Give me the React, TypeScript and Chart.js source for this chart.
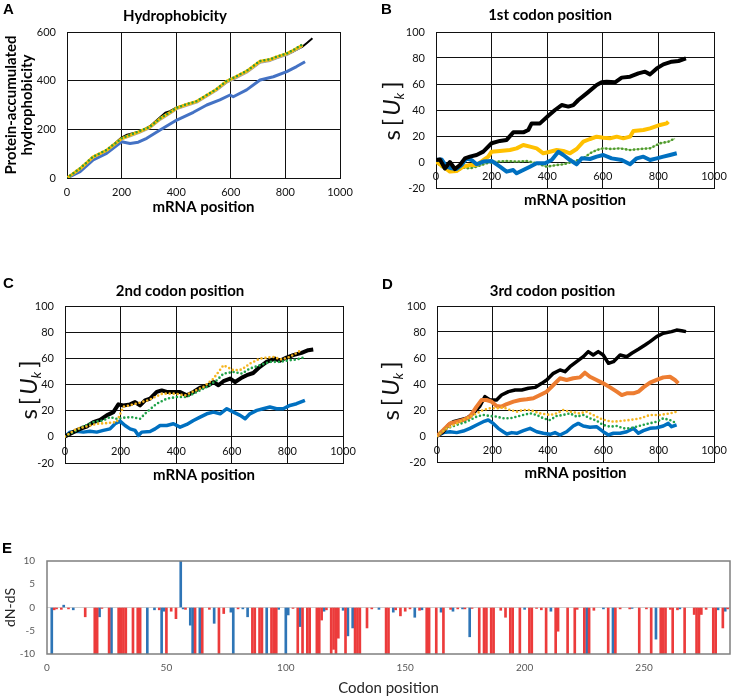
import React, { useEffect, useRef } from 'react';
import { Chart, registerables } from 'chart.js';

Chart.register(...registerables);
Chart.defaults.font.family = 'Lato';

// ---------- shared axis ticks ----------
const mrnaTicksStep = 200;
const mrnaMax = 1000;

// ---------- Panel A: Hydrophobicity ----------
const aGreenX = [0, 48, 96, 145, 200, 231, 267, 304, 341, 377, 402, 438, 475, 512, 548, 585, 609, 658, 707, 744, 768, 805, 829, 863];
const aGreenY = [0, 40, 88, 115, 163, 177, 193, 211, 245, 270, 289, 303, 316, 341, 366, 399, 412, 440, 481, 488, 499, 512, 526, 549];
const aYellowX = [0, 48, 96, 145, 200, 231, 267, 304, 341, 377, 402, 438, 475, 512, 548, 585, 609, 658, 707, 744, 768, 805, 829, 863];
const aYellowY = [0, 39, 87, 114, 162, 176, 192, 210, 244, 269, 288, 302, 315, 340, 365, 398, 411, 439, 480, 487, 498, 511, 525, 546];
const aGrayX = [0, 48, 96, 145, 200, 231, 267, 304, 341, 377, 402, 438, 475, 512, 548, 585, 609, 658, 707, 744, 768, 805, 829, 860];
const aGrayY = [0, 37, 85, 112, 160, 172, 188, 206, 240, 265, 284, 298, 311, 336, 361, 393, 405, 434, 475, 482, 493, 506, 520, 540];
const aBlackX = [0, 48, 96, 145, 200, 220, 245, 270, 304, 341, 360, 377, 402, 438, 475, 512, 548, 585, 609, 658, 707, 744, 768, 805, 829, 863, 880, 899];
const aBlackY = [0, 38, 86, 113, 166, 178, 185, 192, 213, 250, 268, 275, 290, 302, 314, 338, 363, 394, 408, 436, 476, 484, 494, 508, 520, 540, 556, 574];
const aBlueX = [0, 48, 96, 145, 200, 231, 261, 292, 341, 402, 463, 512, 560, 597, 609, 658, 707, 756, 805, 841, 872];
const aBlueY = [0, 26, 74, 101, 149, 142, 147, 163, 197, 238, 270, 300, 321, 341, 334, 362, 403, 416, 437, 458, 478];

// ---------- Panel B: 1st codon position ----------
const bBlackX = [0, 14, 32, 50, 68, 86, 104, 122, 146, 170, 200, 230, 254, 278, 314, 332, 344, 374, 404, 428, 452, 476, 494, 512, 542, 578, 596, 614, 644, 668, 698, 728, 752, 770, 794, 818, 848, 872, 899];
const bBlackY = [1.5, 2, -5, 0, -5.4, -2.3, 2.8, 4.1, 5.4, 8, 14.4, 16.2, 17, 22.8, 22.8, 24.6, 29.7, 29.7, 35.6, 40, 43.8, 42.6, 43.8, 47.7, 52.8, 59.2, 61.3, 61.8, 61.3, 64.9, 65.6, 68.2, 69.5, 67.4, 72, 75.1, 77.2, 77.7, 79.7];
const bYellowX = [0, 26, 50, 74, 98, 122, 146, 170, 188, 200, 230, 266, 290, 314, 338, 362, 386, 410, 434, 458, 482, 506, 530, 554, 578, 602, 626, 650, 674, 698, 710, 746, 770, 806, 830, 836];
const bYellowY = [0.3, -3.6, -7.4, -6.9, -3.6, -2.3, -2.3, 1.5, 4.1, 7.9, 8.5, 9.2, 10.5, 13.1, 11.8, 10.5, 6.7, 7.9, 9.2, 8.5, 6.7, 10, 15.6, 17.7, 19.5, 18.7, 18.2, 19.5, 18.2, 19.5, 23.8, 24.6, 25.9, 28.5, 29.7, 31];
const bGreenX = [0, 26, 50, 74, 98, 122, 146, 182, 218, 254, 290, 326, 362, 398, 434, 458, 494, 530, 554, 578, 602, 632, 662, 698, 734, 770, 806, 836, 860];
const bGreenY = [0.3, -4.9, -7.4, -6.9, -4.4, -4.9, -3.6, -1, 0.3, 0.8, 0.3, 0.8, -1, -3.6, -2.3, -1.8, 0.3, 2.8, 6.7, 9.2, 10.5, 10, 10.5, 9.2, 10, 10.5, 14.4, 15.6, 18.2];
const bBlueX = [0, 20, 38, 56, 74, 92, 110, 128, 146, 170, 200, 230, 254, 278, 290, 314, 338, 362, 392, 416, 440, 458, 482, 506, 524, 554, 578, 602, 632, 668, 698, 722, 746, 770, 794, 818, 842, 866];
const bBlueY = [1.5, 2, -3.6, -4.9, -5.4, -2.3, 2.8, 1.5, -1.8, 0.3, 0.8, -3.6, -7.4, -6.2, -8.7, -6.2, -3.6, -1, -1, 1.5, 7.9, 5.4, 1.5, -1.8, 2.8, 2.3, 4.1, 5.4, 2.8, 1.5, -1.8, 2.8, 4.1, 1.5, 2.8, 4.1, 5.4, 6.7];

// ---------- Panel C: 2nd codon position ----------
const cBlackX = [0, 30, 54, 78, 102, 126, 150, 174, 192, 210, 234, 252, 270, 288, 306, 330, 348, 366, 390, 414, 438, 462, 486, 516, 534, 552, 570, 594, 612, 636, 654, 677, 701, 725, 755, 773, 797, 821, 851, 875, 893];
const cBlackY = [0.3, 3.6, 6.1, 7.9, 11.3, 13, 16.4, 18.9, 24.8, 24, 24.8, 26.6, 24, 27.9, 29.2, 34.3, 35.5, 34.3, 34.3, 34.3, 31.7, 34.3, 37.6, 39.4, 41.9, 39.4, 42.5, 44.5, 41.9, 45.3, 47.1, 48.8, 53.5, 57.3, 59.8, 58.1, 60.6, 62.4, 64.2, 66.2, 66.8];
const cYellowX = [0, 42, 78, 114, 150, 186, 210, 250, 300, 350, 400, 430, 460, 498, 534, 570, 606, 636, 665, 701, 749, 779, 809, 845];
const cYellowY = [0.3, 6.1, 7.9, 10, 10.5, 11.3, 23, 25, 28, 33, 33, 31.5, 34.5, 38.1, 44.5, 54.7, 50.9, 51.4, 56, 59.8, 61.1, 59.1, 61.1, 65.7];
const cGreenX = [0, 30, 66, 102, 138, 162, 186, 210, 240, 270, 294, 330, 366, 402, 438, 474, 510, 546, 570, 606, 636, 665, 701, 737, 773, 809, 833, 857];
const cGreenY = [0.3, 3.6, 7.9, 11.3, 12.5, 15.1, 13.8, 14.6, 15.1, 13.8, 18.9, 25.3, 29.2, 30.4, 30.4, 34.3, 38.1, 43.2, 48.3, 49.6, 48.3, 52.2, 54.7, 57.3, 57.3, 58.6, 59.1, 60.6];
const cBlueX = [0, 18, 42, 66, 90, 114, 138, 162, 180, 198, 216, 234, 252, 264, 276, 306, 324, 342, 366, 390, 414, 438, 462, 486, 510, 534, 558, 582, 606, 630, 648, 665, 690, 713, 737, 761, 785, 809, 833, 863];
const cBlueY = [0.3, 3.6, 4.3, 3.6, 4.3, 3.6, 4.9, 6.1, 10, 12, 8.7, 6.1, 4.9, 1, 3.6, 4.1, 6.1, 8.7, 8.7, 10, 7.4, 9.5, 12.5, 15.1, 17.6, 18.9, 17.6, 21.5, 18.9, 16.4, 13.8, 17.6, 20.2, 21.5, 22.8, 21.5, 21.5, 24, 25.3, 27.9];

// ---------- Panel D: 3rd codon position ----------
const dBlackX = [0, 23, 41, 59, 83, 107, 131, 155, 173, 191, 215, 233, 258, 282, 306, 330, 354, 378, 396, 420, 444, 462, 480, 504, 528, 546, 564, 582, 600, 619, 637, 661, 685, 703, 727, 751, 769, 793, 817, 847, 865, 883, 899];
const dBlackY = [0, 3.3, 8.5, 11, 12.3, 13.6, 17.4, 23.1, 30.3, 27.7, 27.7, 31.5, 34.1, 35.4, 35.4, 36.7, 37.4, 40.5, 43.1, 48.2, 50.8, 49.5, 53.3, 57.2, 61, 64.9, 62.3, 64.9, 62.3, 55.9, 57.2, 62.3, 61, 63.6, 66.7, 70, 72.6, 76.4, 79, 80.3, 81.5, 81, 80.3];
const dOrangeX = [0, 23, 47, 71, 95, 119, 143, 161, 179, 197, 215, 233, 252, 276, 300, 324, 348, 372, 396, 420, 444, 468, 492, 516, 534, 552, 576, 600, 625, 649, 667, 685, 709, 727, 745, 769, 793, 817, 841, 859, 871];
const dOrangeY = [0, 4.6, 9.7, 11, 12.3, 14.9, 22.6, 27.7, 27.7, 26.4, 23.1, 22.6, 24.6, 26.4, 27.7, 28.2, 29, 31.5, 34.1, 39.2, 44.4, 43.1, 44.4, 45.1, 48.7, 45.6, 43.1, 40.5, 37.4, 34.1, 31.5, 32.8, 32.8, 34.1, 37.4, 41, 43.1, 45.1, 45.6, 43.1, 40.5];
const dYellowX = [0, 35, 71, 107, 143, 167, 191, 215, 239, 264, 288, 312, 336, 372, 408, 432, 456, 480, 516, 540, 564, 588, 613, 637, 673, 697, 733, 769, 805, 841, 865];
const dYellowY = [0, 5.9, 9.7, 13.6, 17.4, 20, 21.3, 21.3, 22, 20, 18.7, 20, 20, 17.4, 16.2, 17.4, 20, 18.7, 17.4, 18.7, 16.2, 13.6, 11.8, 11, 11.8, 12.3, 13.6, 16.2, 16.2, 17.4, 18.7];
const dGreenX = [0, 35, 71, 107, 143, 167, 191, 215, 239, 264, 288, 312, 336, 360, 384, 408, 432, 456, 480, 504, 528, 552, 576, 600, 624, 649, 673, 697, 721, 757, 793, 817, 841, 865];
const dGreenY = [0, 5.9, 8.5, 11, 14.9, 16.2, 15.4, 14.9, 13.6, 13.6, 14.9, 16.2, 17.4, 16.2, 13.6, 12.3, 15.4, 16.2, 17.4, 14.9, 16.2, 13.6, 11.8, 8.5, 7.2, 7.7, 5.9, 5.9, 7.2, 9.2, 11, 13.6, 12.3, 9.7];
const dBlueX = [0, 23, 47, 71, 95, 119, 143, 167, 185, 203, 221, 239, 252, 270, 288, 312, 336, 360, 384, 408, 426, 444, 468, 492, 510, 528, 552, 576, 600, 619, 637, 661, 685, 709, 727, 745, 769, 793, 817, 835, 847, 865];
const dBlueY = [0, 2.6, 3.3, 2.6, 3.8, 5.9, 8.5, 11, 12.3, 9.7, 5.9, 3.3, 1.5, 2.6, 2.1, 4.1, 5.9, 3.3, 2.1, 1.3, 2.6, 0.8, 3.3, 7.7, 9.7, 7.7, 6.7, 7.2, 3.3, 0.8, 2.1, 2.1, 3.3, 5.9, 2.1, 4.1, 5.9, 6.4, 7.7, 9.7, 7.2, 8.5];

// ---------- Panel E: dN-dS per codon ----------
const eRedCodon = [
  3, 4, 6, 9, 16, 20, 21, 23, 26, 30,
  31, 32, 33, 36, 38, 39, 47, 50, 52, 54,
  58, 62, 65, 68, 72, 74, 80, 86, 87, 89,
  90, 94, 95, 96, 103, 105, 107, 109, 110, 113,
  114, 115, 117, 119, 120, 121, 122, 125, 129, 130,
  131, 134, 136, 142, 143, 146, 148, 150, 152, 156,
  159, 160, 163, 166, 169, 172, 175, 178, 181, 183,
  184, 186, 187, 190, 192, 194, 195, 198, 202, 203,
  205, 207, 209, 213, 214, 218, 221, 222, 225, 227,
  229, 235, 238, 240, 244, 248, 251, 253, 257, 258,
  259, 261, 262, 264, 267, 271, 272, 273, 274, 276,
  279, 280, 283, 285,
];
const eRedValue = [
  -0.5, -0.3, -0.4, -0.3, -2, -10, -10, -0.2, -10, -10,
  -10, -10, -10, -10, -10, -10, -0.5, -10, -0.8, -2.4,
  -0.4, -10, -10, -0.4, -10, -1.3, -0.3, -10, -10, -10,
  -10, -10, -10, -10, -0.2, -10, -10, -10, -10, -10,
  -10, -2.7, -0.5, -10, -9, -10, -6.6, -10, -10, -10,
  -10, -4.4, -0.3, -10, -10, -0.5, -1.8, -0.8, -0.3, -0.6,
  -10, -10, -10, -10, -0.4, -0.3, -0.3, -0.2, -10, -10,
  -10, -10, -10, -0.6, -2.1, -10, -10, -10, -10, -10,
  -0.2, -0.5, -10, -10, -5.1, -10, -10, -0.4, -10, -10,
  -0.6, -10, -10, -0.3, -0.3, -10, -0.3, -10, -10, -10,
  -10, -0.4, -10, -0.5, -10, -1.5, -10, -10, -1.5, -0.4,
  -10, -10, -4.4, -0.3,
];
const eBlueCodon = [
  2, 7, 11, 22, 27, 42, 45, 48, 49, 56,
  57, 60, 61, 64, 70, 77, 78, 82, 84, 92,
  97, 100, 101, 106, 116, 124, 126, 128, 139, 145,
  154, 157, 165, 170, 174, 177, 200, 211, 226, 233,
  237, 245, 255, 265, 281, 284,
];
const eBlueValue = [
  -10, 0.5, -0.5, -2, -10, -10, -0.5, -10, -0.8, 10,
  -0.3, -3.8, -10, -10, -3.4, -1, -10, -0.3, -2, -10,
  -0.4, -10, -1.6, -4.1, -0.8, -0.6, -6.1, -4.4, -0.4, -1,
  -2.1, -0.5, -1, -0.8, -0.3, -6.3, -0.4, -0.8, -10, -0.3,
  -10, -0.2, -6.8, -0.3, -0.5, -0.8,
];
const eMaxCodon = 286;
const eTickStep = 50;

// ---------- helpers ----------
const toPts = (xs: number[], ys: number[]) => xs.map((x, i) => ({ x, y: ys[i] }));

type Series = { x: number[]; y: number[]; color: string; width: number; dotGap?: number };

const sukPlugin = {
  id: 'sukTitle',
  afterDraw(chart: any, _a: any, opts: any) {
    if (!opts || opts.x == null) return;
    const ctx = chart.ctx;
    ctx.save();
    ctx.translate(opts.x, opts.y);
    ctx.rotate(-Math.PI / 2);
    ctx.fillStyle = '#111';
    ctx.textBaseline = 'middle';
    const size = opts.size || 22;
    const parts = [
      { t: 's', f: `${size}px Lato`, dy: 0, gap: 4 },
      { t: '[', f: `${size}px Lato`, dy: 0, gap: 3 },
      { t: 'U', f: `italic ${size}px Lato`, dy: 0, gap: 0 },
      { t: 'k', f: `italic ${Math.round(size * 0.58)}px Lato`, dy: size * 0.32, gap: 4 },
      { t: ']', f: `${size}px Lato`, dy: 0, gap: 0 },
    ];
    let total = 0;
    const ws = parts.map((p) => {
      ctx.font = p.f;
      const w = ctx.measureText(p.t).width;
      total += w + p.gap;
      return w;
    });
    let x = -total / 2;
    parts.forEach((p, i) => {
      ctx.font = p.f;
      ctx.fillText(p.t, x, p.dy);
      x += ws[i] + p.gap;
    });
    ctx.restore();
  },
};

const panelTitlePlugin = {
  id: 'panelTitle',
  afterDraw(chart: any, _a: any, opts: any) {
    if (!opts || !opts.text) return;
    const ctx = chart.ctx;
    ctx.save();
    ctx.font = 'bold 15px Lato';
    ctx.fillStyle = '#000';
    ctx.textAlign = 'center';
    ctx.textBaseline = 'middle';
    ctx.fillText(opts.text, opts.x, opts.y);
    ctx.restore();
  },
};

const framePlugin = {
  id: 'frame',
  afterDraw(chart: any, _a: any, opts: any) {
    if (!opts || !opts.color) return;
    const { left, top, right, bottom } = chart.chartArea;
    const ctx = chart.ctx;
    ctx.save();
    ctx.strokeStyle = opts.color;
    ctx.lineWidth = opts.width;
    ctx.strokeRect(left, top, right - left, bottom - top);
    ctx.restore();
  },
};

type LinePanel = {
  left: number; top: number; width: number; height: number;
  padTop: number; padRight: number; yW: number; xH: number;
  inside: boolean; xPad: number;
  yMin: number; yMax: number; yStep: number;
  title: string; titleX: number; titleY: number;
  yTitle?: string[]; suk?: { x: number; y: number; size: number };
  series: Series[];
};

function lineConfig(p: LinePanel): any {
  return {
    type: 'line',
    data: {
      datasets: p.series.map((s) => ({
        data: toPts(s.x, s.y),
        borderColor: s.color,
        borderWidth: s.width,
        borderDash: s.dotGap ? [0, s.dotGap] : [],
        borderCapStyle: s.dotGap ? 'round' : 'butt',
        borderJoinStyle: 'round',
        pointRadius: 0,
        tension: 0,
        fill: false,
      })),
    },
    options: {
      responsive: false,
      animation: false,
      events: [],
      layout: { padding: { left: 0, right: p.padRight, top: p.padTop, bottom: 0 } },
      plugins: {
        legend: { display: false },
        tooltip: { enabled: false },
        title: { display: false },
        panelTitle: { text: p.title, x: p.titleX, y: p.titleY },
        sukTitle: p.suk ? p.suk : {},
      },
      scales: {
        x: {
          type: 'linear',
          min: 0,
          max: mrnaMax,
          ticks: {
            stepSize: mrnaTicksStep,
            padding: p.xPad,
            mirror: p.inside,
            color: '#111',
            font: { size: 11 },
            maxRotation: 0,
            callback: (v: number) => String(v),
          },
          grid: { color: '#111', lineWidth: 1, drawTicks: false },
          border: { color: '#111', width: 1 },
          title: { display: true, text: 'mRNA position', color: '#000', font: { family: 'Lato', size: 15, weight: 'bold' }, padding: 0 },
          afterFit: (s: any) => { s.height = p.xH; s.paddingLeft = 0; s.paddingRight = 0; },
        },
        y: {
          min: p.yMin,
          max: p.yMax,
          ticks: { stepSize: p.yStep, padding: 11, color: '#111', font: { size: 11 }, callback: (v: number) => String(v) },
          grid: { color: '#111', lineWidth: 1, drawTicks: false },
          border: { color: '#111', width: 1 },
          title: p.yTitle
            ? { display: true, text: p.yTitle, color: '#000', font: { family: 'Lato', size: 15, weight: 'bold', lineHeight: 1.07 }, padding: { top: 3, bottom: 0 } }
            : { display: false },
          afterFit: (s: any) => { s.width = p.yW; s.paddingTop = 0; s.paddingBottom = 0; },
        },
      },
    },
    plugins: [sukPlugin, panelTitlePlugin],
  };
}

const panelA: LinePanel = {
  left: 0, top: 0, width: 358, height: 216, padTop: 32, padRight: 18, yW: 67, xH: 38,
  inside: false, xPad: 8,
  yMin: 0, yMax: 600, yStep: 200, title: 'Hydrophobicity', titleX: 175, titleY: 15.7,
  yTitle: ['Protein-accumulated', 'hydrophobicity'],
  series: [
    { x: aGreenX, y: aGreenY, color: '#2f9a3e', width: 2.5, dotGap: 4 },
    { x: aYellowX, y: aYellowY, color: '#ffc000', width: 3 },
    { x: aGrayX, y: aGrayY, color: '#a5a5a5', width: 2.5 },
    { x: aBlackX, y: aBlackY, color: '#000000', width: 2 },
    { x: aBlueX, y: aBlueY, color: '#4472c4', width: 3 },
  ],
};

const panelB: LinePanel = {
  left: 374, top: 0, width: 358, height: 209, padTop: 32, padRight: 18, yW: 62, xH: 21,
  inside: true, xPad: 5.4,
  yMin: -20, yMax: 100, yStep: 20, title: '1st codon position', titleX: 176, titleY: 15.3,
  suk: { x: 18, y: 111, size: 24 },
  series: [
    { x: bBlackX, y: bBlackY, color: '#000000', width: 4 },
    { x: bBlueX, y: bBlueY, color: '#0070c0', width: 4 },
    { x: bYellowX, y: bYellowY, color: '#ffc000', width: 4 },
    { x: bGreenX, y: bGreenY, color: '#4e9a2e', width: 2.6, dotGap: 4 },
    { x: bGreenX, y: bGreenY, color: '#a9d18e', width: 1.5 },
  ],
};

const panelC: LinePanel = {
  left: 5, top: 272, width: 356, height: 212, padTop: 34, padRight: 18, yW: 60, xH: 21,
  inside: true, xPad: 5.4,
  yMin: -20, yMax: 100, yStep: 20, title: '2nd codon position', titleX: 175, titleY: 18.7,
  suk: { x: 24, y: 118, size: 24 },
  series: [
    { x: cYellowX, y: cYellowY, color: '#f5b51f', width: 2.6, dotGap: 4 },
    { x: cGreenX, y: cGreenY, color: '#21a34a', width: 2.6, dotGap: 4 },
    { x: cBlackX, y: cBlackY, color: '#000000', width: 4 },
    { x: cBlueX, y: cBlueY, color: '#0070c0', width: 3.5 },
  ],
};

const panelD: LinePanel = {
  left: 378, top: 272, width: 354, height: 210, padTop: 34, padRight: 18, yW: 59, xH: 20,
  inside: true, xPad: 5.4,
  yMin: -20, yMax: 100, yStep: 20, title: '3rd codon position', titleX: 174.5, titleY: 18.7,
  suk: { x: 13, y: 119, size: 24 },
  series: [
    { x: dYellowX, y: dYellowY, color: '#f5b51f', width: 2.6, dotGap: 4 },
    { x: dGreenX, y: dGreenY, color: '#21a34a', width: 2.6, dotGap: 4 },
    { x: dOrangeX, y: dOrangeY, color: '#ed7d31', width: 4 },
    { x: dBlackX, y: dBlackY, color: '#000000', width: 3.5 },
    { x: dBlueX, y: dBlueY, color: '#0070c0', width: 3.5 },
  ],
};

function barConfig(): any {
  return {
    type: 'bar',
    data: {
      datasets: [
        { data: toPts(eRedCodon, eRedValue), backgroundColor: '#ec3b3b', barThickness: 2, grouped: false },
        { data: toPts(eBlueCodon, eBlueValue), backgroundColor: '#2e75b6', barThickness: 2, grouped: false },
      ],
    },
    options: {
      responsive: false,
      animation: false,
      events: [],
      layout: { padding: { left: 0, right: 2, top: 6, bottom: 0 } },
      plugins: {
        legend: { display: false },
        tooltip: { enabled: false },
        frame: { color: '#7f7f7f', width: 1.5 },
      },
      scales: {
        x: {
          type: 'linear',
          offset: false,
          min: 0,
          max: eMaxCodon,
          grid: { display: false, drawTicks: false },
          border: { display: false },
          ticks: { stepSize: eTickStep, padding: 8, color: '#595959', font: { size: 10 }, maxRotation: 0 },
          afterBuildTicks: (s: any) => { s.ticks = s.ticks.filter((t: any) => t.value % eTickStep === 0); },
          title: { display: true, text: 'Codon position', color: '#262626', font: { family: 'Lato', size: 15 }, padding: 0 },
          afterFit: (s: any) => { s.height = 43; s.paddingLeft = 0; s.paddingRight = 0; },
        },
        y: {
          min: -10,
          max: 10,
          ticks: { stepSize: 5, padding: 12, color: '#595959', font: { size: 10 } },
          grid: {
            drawTicks: false,
            color: (c: any) => (c.tick && c.tick.value === 0 ? '#cfcfcf' : 'rgba(0,0,0,0)'),
          },
          border: { display: false },
          title: { display: true, text: 'dN-dS', color: '#262626', font: { family: 'Lato', size: 14 }, padding: { top: 1.6, bottom: 0 } },
          afterFit: (s: any) => { s.width = 47; s.paddingTop = 0; s.paddingBottom = 0; },
        },
      },
    },
    plugins: [framePlugin],
  };
}

function ChartBox({ left, top, width, height, config }: { left: number; top: number; width: number; height: number; config: any }) {
  const ref = useRef<HTMLCanvasElement>(null);
  useEffect(() => {
    const chart = new Chart(ref.current as HTMLCanvasElement, config);
    return () => chart.destroy();
  }, []);
  return (
    <canvas
      ref={ref}
      width={width}
      height={height}
      style={{ position: 'absolute', left, top, width, height, display: 'block' }}
    />
  );
}

const letterStyle = (left: number, top: number): React.CSSProperties => ({
  position: 'absolute',
  left,
  top,
  fontFamily: '"Liberation Sans", Arial, sans-serif',
  fontWeight: 'bold',
  fontSize: 15,
  lineHeight: '15px',
  color: '#000',
});

export default function App() {
  const panels = [panelA, panelB, panelC, panelD];
  return (
    <div style={{ position: 'absolute', left: 0, top: 0, width: 732, height: 697, background: '#fff', overflow: 'hidden' }}>
      {panels.map((p, i) => (
        <ChartBox key={i} left={p.left} top={p.top} width={p.width} height={p.height} config={lineConfig(p)} />
      ))}
      <ChartBox left={0} top={555} width={732} height={142} config={barConfig()} />
      <div style={letterStyle(3, 1)}>A</div>
      <div style={letterStyle(381, 1)}>B</div>
      <div style={letterStyle(3, 275)}>C</div>
      <div style={letterStyle(382, 276)}>D</div>
      <div style={letterStyle(2, 540)}>E</div>
    </div>
  );
}
